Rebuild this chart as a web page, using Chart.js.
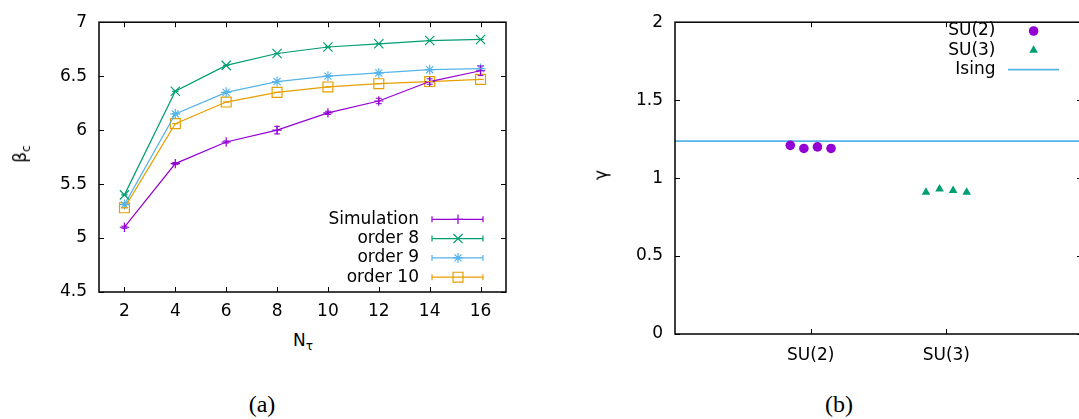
<!DOCTYPE html>
<html>
<head>
<meta charset="utf-8">
<script src="https://cdn.jsdelivr.net/npm/chart.js@4.4.1/dist/chart.umd.min.js"></script>
<style>
    body { margin: 0; width: 1079px; height: 419px; overflow: hidden; background: #fff; position: relative; font-family: 'DejaVu Sans', sans-serif; color: #000; }
    .box { position: absolute; }
    .lbl { position: absolute; font-size: 17px; white-space: nowrap; transform: translate(-50%, -50%); line-height: 1; }
    .rot { transform: translate(-50%, -50%) rotate(-90deg); }
    .cap { position: absolute; font-family: 'Liberation Serif', serif; font-size: 24px; transform: translate(-50%, -50%); line-height: 1; }
    sub { font-size: 12px; vertical-align: -4px; }
</style>
</head>
<body>
<div class="box" style="left:0;top:0;width:530px;height:330px"><canvas id="chartA"></canvas></div>
<div class="box" style="left:540px;top:0;width:560px;height:370px"><canvas id="chartB"></canvas></div>
<div class="lbl rot" style="left:22px;top:154px">β<sub>c</sub></div>
<div class="lbl" style="left:303px;top:342px">N<sub>τ</sub></div>
<div class="lbl rot" style="left:601px;top:175px">γ</div>
<div class="cap" style="left:262px;top:404px">(a)</div>
<div class="cap" style="left:839px;top:404px">(b)</div>
<script>
// panel (a): beta_c against N_tau
const nTau = [2, 4, 6, 8, 10, 12, 14, 16];
const simulation = [5.10, 5.69, 5.89, 6.00, 6.16, 6.27, 6.45, 6.55];
const simulationErr = [0.01, 0.01, 0.01, 0.035, 0.015, 0.025, 0.025, 0.045];
const order8 = [5.40, 6.36, 6.60, 6.71, 6.77, 6.80, 6.83, 6.84];
const order9 = [5.31, 6.15, 6.35, 6.45, 6.50, 6.53, 6.56, 6.57];
const order10 = [5.28, 6.06, 6.26, 6.35, 6.40, 6.43, 6.45, 6.47];
const noErr = [0, 0, 0, 0, 0, 0, 0, 0];
const xTicksA = [2, 4, 6, 8, 10, 12, 14, 16];
const yTicksA = [4.5, 5, 5.5, 6, 6.5, 7];

// panel (b): gamma per gauge group
const groups = ['SU(2)', 'SU(3)'];
const groupTicks = [1, 2];
const su2X = [0.85, 0.95, 1.05, 1.15];
const su2Gamma = [1.21, 1.19, 1.20, 1.19];
const su3X = [1.85, 1.95, 2.05, 2.15];
const su3Gamma = [0.91, 0.93, 0.92, 0.91];
const isingGamma = 1.237;
const yTicksB = [0, 0.5, 1, 1.5, 2];

const purple = '#9400d3';
const green = '#009e73';
const blue = '#56b4e9';
const orange = '#e69f00';

Chart.defaults.font.family = "'DejaVu Sans', sans-serif";
Chart.defaults.font.size = 17;
Chart.defaults.color = '#000';

const toPoints = (xs, ys) => xs.map((x, i) => ({ x: x, y: ys[i] }));

// gnuplot style frame with inward ticks on all four sides
const framePlugin =
{
    id: 'frame',
    afterDraw(chart)
    {
        const ctx = chart.ctx;
        const a = chart.chartArea;
        const xs = chart.scales.x;
        const ys = chart.scales.y;
        const len = 5;
        ctx.save();
        ctx.strokeStyle = '#000';
        ctx.lineWidth = 1;
        ctx.beginPath();
        xs.ticks.forEach((t) =>
        {
            const px = Math.round(xs.getPixelForValue(t.value)) + 0.5;
            ctx.moveTo(px, a.bottom);
            ctx.lineTo(px, a.bottom - len);
            ctx.moveTo(px, a.top);
            ctx.lineTo(px, a.top + len);
        });
        ys.ticks.forEach((t) =>
        {
            const py = Math.round(ys.getPixelForValue(t.value)) + 0.5;
            ctx.moveTo(a.left, py);
            ctx.lineTo(a.left + len, py);
            ctx.moveTo(a.right, py);
            ctx.lineTo(a.right - len, py);
        });
        ctx.stroke();
        ctx.lineWidth = 1.5;
        ctx.strokeRect(a.left, a.top, a.right - a.left, a.bottom - a.top);
        ctx.restore();
    }
};

// vertical error bars with caps, read from dataset.errors
const errorBarPlugin =
{
    id: 'errorBars',
    afterDatasetsDraw(chart)
    {
        const ctx = chart.ctx;
        const ys = chart.scales.y;
        const w = 3;
        chart.data.datasets.forEach((ds, i) =>
        {
            if (!ds.errors)
            {
                return;
            }
            const meta = chart.getDatasetMeta(i);
            ctx.save();
            ctx.strokeStyle = ds.borderColor;
            ctx.lineWidth = 1;
            ctx.beginPath();
            meta.data.forEach((pt, j) =>
            {
                const v = ds.data[j].y;
                const top = ys.getPixelForValue(v + ds.errors[j]);
                const bot = ys.getPixelForValue(v - ds.errors[j]);
                ctx.moveTo(pt.x, top);
                ctx.lineTo(pt.x, bot);
                ctx.moveTo(pt.x - w, top);
                ctx.lineTo(pt.x + w, top);
                ctx.moveTo(pt.x - w, bot);
                ctx.lineTo(pt.x + w, bot);
            });
            ctx.stroke();
            ctx.restore();
        });
    }
};

// key drawn the gnuplot way: text on the left, sample on the right
const keyPlugin =
{
    id: 'gpKey',
    afterDraw(chart, args, opts)
    {
        const ctx = chart.ctx;
        ctx.save();
        chart.data.datasets.forEach((ds, i) =>
        {
            const y = opts.top + i * opts.gap;
            ctx.font = "17px 'DejaVu Sans'";
            ctx.fillStyle = '#000';
            ctx.textAlign = 'right';
            ctx.textBaseline = 'middle';
            ctx.fillText(ds.label, opts.textRight, y);

            ctx.strokeStyle = ds.borderColor;
            if (ds.showLine === true)
            {
                ctx.lineWidth = ds.borderWidth;
                ctx.beginPath();
                ctx.moveTo(opts.x0, y);
                ctx.lineTo(opts.x1, y);
                if (ds.errors)
                {
                    ctx.moveTo(opts.x0, y - 3);
                    ctx.lineTo(opts.x0, y + 3);
                    ctx.moveTo(opts.x1, y - 3);
                    ctx.lineTo(opts.x1, y + 3);
                }
                ctx.stroke();
            }
            if (ds.pointRadius > 0 && Chart.helpers && Chart.helpers.drawPoint)
            {
                ctx.fillStyle = ds.pointBackgroundColor;
                ctx.strokeStyle = ds.pointBorderColor;
                ctx.lineWidth = ds.pointBorderWidth;
                Chart.helpers.drawPoint(ctx,
                {
                    pointStyle: ds.pointStyle,
                    radius: ds.pointRadius,
                    borderWidth: ds.pointBorderWidth,
                    rotation: 0
                }, opts.mark, y);
            }
        });
        ctx.restore();
    }
};

const series = (label, ys, errs, color, style, radius, fill) =>
{
    return {
        label: label,
        data: toPoints(nTau, ys),
        errors: errs,
        showLine: true,
        borderColor: color,
        borderWidth: 1.2,
        pointStyle: style,
        pointRadius: radius,
        pointBorderColor: color,
        pointBackgroundColor: fill,
        pointBorderWidth: 1.2,
        tension: 0
    }
}

new Chart(document.getElementById('chartA'),
{
    type: 'line',
    data:
    {
        datasets:
        [
            series('Simulation', simulation, simulationErr, purple, 'cross', 4.7, purple),
            series('order 8', order8, noErr, green, 'crossRot', 6.5, green),
            series('order 9', order9, noErr, blue, 'star', 5, blue),
            series('order 10', order10, noErr, orange, 'rect', 7, 'rgba(0,0,0,0)')
        ]
    },
    options:
    {
        animation: false,
        responsive: true,
        maintainAspectRatio: false,
        layout: { padding: { top: 16, right: 24, left: 0, bottom: 0 } },
        plugins:
        {
            legend: { display: false },
            tooltip: { enabled: false },
            gpKey: { top: 219.3, gap: 19.3, textRight: 419, x0: 432, x1: 483, mark: 458 }
        },
        scales:
        {
            x:
            {
                type: 'linear',
                min: 1,
                max: 17,
                grid: { display: false, drawTicks: false },
                border: { display: false },
                ticks: { padding: 9, maxRotation: 0, callback: (v) => String(v) },
                afterBuildTicks: (s) => { s.ticks = xTicksA.map((v) => ({ value: v })) },
                afterFit: (s) => { s.height = 38 }
            },
            y:
            {
                min: 4.5,
                max: 7,
                grid: { display: false, drawTicks: false },
                border: { display: false },
                ticks: { padding: 12, callback: (v) => String(v) },
                afterBuildTicks: (s) => { s.ticks = yTicksA.map((v) => ({ value: v })) },
                afterFit: (s) => { s.width = 99 }
            }
        }
    },
    plugins: [errorBarPlugin, framePlugin, keyPlugin]
});

new Chart(document.getElementById('chartB'),
{
    type: 'scatter',
    data:
    {
        datasets:
        [
            {
                label: 'SU(2)',
                data: toPoints(su2X, su2Gamma),
                pointStyle: 'circle',
                pointRadius: 4.8,
                borderColor: purple,
                pointBorderColor: purple,
                pointBackgroundColor: purple,
                pointBorderWidth: 0
            },
            {
                label: 'SU(3)',
                data: toPoints(su3X, su3Gamma),
                pointStyle: 'triangle',
                pointRadius: 5,
                borderColor: green,
                pointBorderColor: green,
                pointBackgroundColor: green,
                pointBorderWidth: 0
            },
            {
                label: 'Ising',
                data: [{ x: 0, y: isingGamma }, { x: 3, y: isingGamma }],
                showLine: true,
                borderColor: blue,
                borderWidth: 1.8,
                pointRadius: 0
            }
        ]
    },
    options:
    {
        animation: false,
        responsive: true,
        maintainAspectRatio: false,
        layout: { padding: { top: 16, right: 18, left: 0, bottom: 0 } },
        plugins:
        {
            legend: { display: false },
            tooltip: { enabled: false },
            gpKey: { top: 31, gap: 19.3, textRight: 455.5, x0: 468, x1: 519, mark: 493.6 }
        },
        scales:
        {
            x:
            {
                type: 'linear',
                min: 0,
                max: 3,
                grid: { display: false, drawTicks: false },
                border: { display: false },
                ticks:
                {
                    padding: 11,
                    maxRotation: 0,
                    callback: (v) => groups[groupTicks.indexOf(v)]
                },
                afterBuildTicks: (s) => { s.ticks = groupTicks.map((v) => ({ value: v })) },
                afterFit: (s) => { s.height = 36 }
            },
            y:
            {
                min: 0,
                max: 2,
                grid: { display: false, drawTicks: false },
                border: { display: false },
                ticks: { padding: 12, callback: (v) => String(v) },
                afterBuildTicks: (s) => { s.ticks = yTicksB.map((v) => ({ value: v })) },
                afterFit: (s) => { s.width = 135 }
            }
        }
    },
    plugins: [framePlugin, keyPlugin]
});
</script>
</body>
</html>
